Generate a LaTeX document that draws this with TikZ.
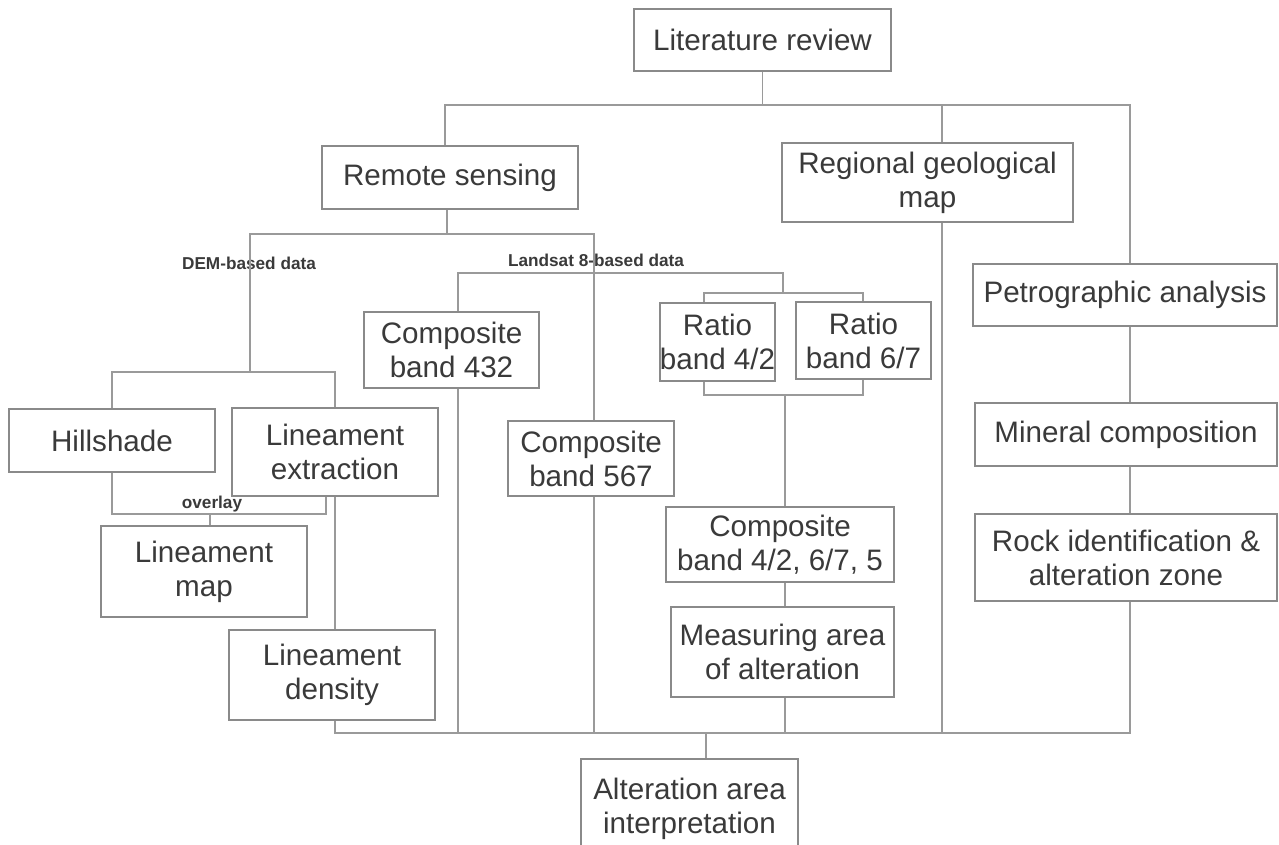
\documentclass[tikz,border=0pt]{standalone}
\usepackage{fontspec}
\setmainfont{Liberation Sans}
\definecolor{txt}{HTML}{3A3A3A}
\definecolor{boxgray}{HTML}{8A8A8A}
\definecolor{linegray}{HTML}{9A9A9A}
\tikzset{
  box/.style={draw=boxgray, line width=0.8pt, fill=white, align=center, inner sep=0pt,
    font=\fontsize{14.8}{17}\selectfont, text=txt},
  lbl/.style={font=\bfseries\fontsize{8.6}{10}\selectfont, text=txt, inner sep=0pt},
  conn/.style={draw=linegray, line width=0.7pt}
}
\begin{document}
\begin{tikzpicture}[x=0.5pt,y=-0.5pt]
\useasboundingbox (0,0) rectangle (1279,845);
\clip (0,0) rectangle (1279,845);
\fill[white] (0,0) rectangle (1279,845);
% x / y guide coordinates
\foreach \xx in {112,210,250,326,335,445,447,458,594,704,706,783,785,863,942,1130}
  {\coordinate (x\xx) at (\xx,0);}
\foreach \yy in {105,234,273,293,372,395,514,733}
  {\coordinate (y\yy) at (0,\yy);}
% boxes
\node[box, minimum width=128.5pt, minimum height=31pt] (lit) at (762.5,40) {Literature review};
\node[box, minimum width=128pt, minimum height=31.5pt] (rs) at (450,177.5) {Remote sensing};
\node[box, minimum width=145.5pt, minimum height=39.5pt] (reg) at (927.5,182.5) {Regional geological\\map};
\node[box, minimum width=152pt, minimum height=31pt] (pet) at (1125,295) {Petrographic analysis};
\node[box, minimum width=151pt, minimum height=31.5pt] (min) at (1126,434.5) {Mineral composition};
\node[box, minimum width=151pt, minimum height=43.5pt] (rock) at (1126,557.5) {Rock identification \&\\alteration zone};
\node[box, minimum width=87.5pt, minimum height=38pt] (cb432) at (451.5,350) {Composite\\band 432};
\node[box, minimum width=53.5pt, minimum height=39pt] (r42) at (717.5,342) {Ratio\\band 4/2};
\node[box, minimum width=67.5pt, minimum height=38.5pt] (r67) at (863.5,340.5) {Ratio\\band 6/7};
\node[box, minimum width=83pt, minimum height=37.5pt] (cb567) at (591,458.5) {Composite\\band 567};
\node[box, minimum width=114pt, minimum height=37.5pt] (cbmix) at (780,544.5) {Composite\\band 4/2, 6/7, 5};
\node[box, minimum width=111.5pt, minimum height=45pt] (meas) at (782.5,652) {Measuring area\\of alteration};
\node[box, minimum width=103pt, minimum height=31.5pt] (hill) at (112,440.5) {Hillshade};
\node[box, minimum width=103pt, minimum height=44pt] (linex) at (335,452) {Lineament\\extraction};
\node[box, minimum width=103pt, minimum height=45.5pt] (linmap) at (204,571.5) {Lineament\\map};
\node[box, minimum width=103pt, minimum height=45pt] (lind) at (332,675) {Lineament\\density};
\node[box, minimum width=108.5pt, minimum height=50pt] (alt) at (689.5,809) {Alteration area\\interpretation};
% labels
\node[lbl] (dem) at (249,263) {DEM-based data};
\node[lbl] (lsat) at (596,260) {Landsat 8-based data};
\node[lbl] (ovl) at (212,504) {overlay};
% top level
\draw[conn] (lit.south) -- (lit.south |- y105);
\draw[conn] (x445 |- rs.north) |- (x1130 |- y105) -- (x1130 |- pet.north);
\draw[conn] (x942 |- reg.north) -- (x942 |- y105);
\draw[conn] (x942 |- reg.south) -- (x942 |- y733);
\draw[conn] (x1130 |- pet.south) -- (x1130 |- min.north);
\draw[conn] (x1130 |- min.south) -- (x1130 |- rock.north);
\draw[conn] (x1130 |- rock.south) |- (x335 |- y733) -- (x335 |- lind.south);
\draw[conn] (x706 |- y733) -- (x706 |- alt.north);
% remote sensing
\draw[conn] (x447 |- rs.south) -- (x447 |- y234);
\draw[conn] (x250 |- y372) |- (x594 |- y234) -- (x594 |- cb567.north);
\draw[conn] (x112 |- hill.north) |- (x335 |- y372) -- (x335 |- linex.north);
\draw[conn] (x594 |- cb567.south) -- (x594 |- y733);
% landsat
\draw[conn] (x458 |- cb432.north) |- (x783 |- y273) -- (x783 |- y293);
\draw[conn] (x704 |- r42.north) |- (x863 |- y293) -- (x863 |- r67.north);
\draw[conn] (x704 |- r42.south) |- (x863 |- y395) -- (x863 |- r67.south);
\draw[conn] (x785 |- y395) -- (x785 |- cbmix.north);
\draw[conn] (x458 |- cb432.south) -- (x458 |- y733);
\draw[conn] (x785 |- cbmix.south) -- (x785 |- meas.north);
\draw[conn] (x785 |- meas.south) -- (x785 |- y733);
% DEM
\draw[conn] (x112 |- hill.south) |- (x326 |- y514) -- (x326 |- linex.south);
\draw[conn] (x210 |- y514) -- (x210 |- linmap.north);
\draw[conn] (x335 |- linex.south) -- (x335 |- lind.north);
\end{tikzpicture}
\end{document}
